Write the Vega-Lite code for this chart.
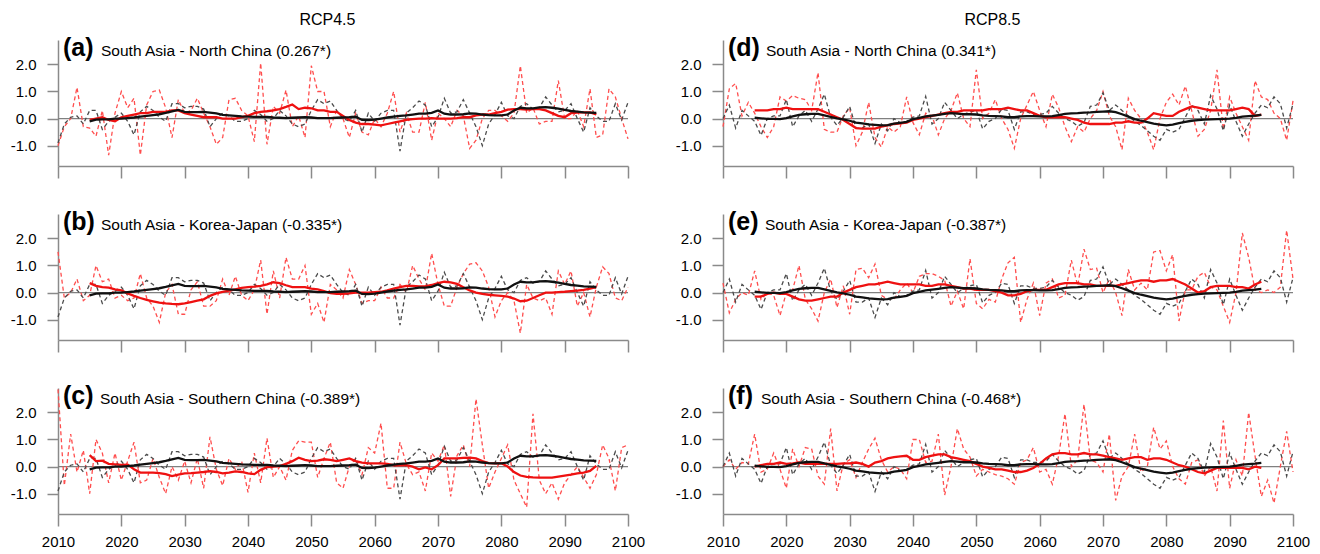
{
  "$schema": "https://vega.github.io/schema/vega-lite/v6.json",
  "background": "white",
  "padding": {"left": 10, "top": 12, "right": 5, "bottom": 5},
  "config": {
    "font": "Liberation Sans",
    "view": {"stroke": null},
    "axis": {"grid": false, "domainColor": "#8a8a8a", "tickColor": "#8a8a8a", "domainWidth": 1.5, "tickWidth": 1.5, "labelColor": "#000", "labelFont": "Liberation Sans", "labelFontSize": 15, "labelFlush": false},
    "title": {"font": "Liberation Sans", "fontSize": 16, "fontWeight": "normal", "color": "#000", "anchor": "middle"}
  },
  "datasets": {
    "labels": [
      {"panel": "a", "tag": "(a)", "name": "South Asia - North China (0.267*)"},
      {"panel": "b", "tag": "(b)", "name": "South Asia - Korea-Japan (-0.335*)"},
      {"panel": "c", "tag": "(c)", "name": "South Asia - Southern China (-0.389*)"},
      {"panel": "d", "tag": "(d)", "name": "South Asia - North China (0.341*)"},
      {"panel": "e", "tag": "(e)", "name": "South Asia - Korea-Japan (-0.387*)"},
      {"panel": "f", "tag": "(f)", "name": "South Asia - Southern China (-0.468*)"}
    ],
    "monsoon": [
      {"year":2010,"sa45":-0.9,"sa85":0,"nc45":-1,"kj45":1.5,"sc45":2.85,"nc85":-0.3,"kj85":0.35,"sc85":0},
      {"year":2011,"sa45":-0.2,"sa85":0.5,"nc45":-0.3,"kj45":-0.2,"sc45":-0.7,"nc85":1.1,"kj85":-0.75,"sc85":0.25},
      {"year":2012,"sa45":0.05,"sa85":-0.35,"nc45":0,"kj45":0,"sc45":1.2,"nc85":1.3,"kj85":-0.25,"sc85":-0.1},
      {"year":2013,"sa45":0.1,"sa85":0.3,"nc45":1.15,"kj45":0.5,"sc45":-0.2,"nc85":0.1,"kj85":0,"sc85":0.15},
      {"year":2014,"sa45":-0.2,"sa85":0.1,"nc45":-0.3,"kj45":-0.3,"sc45":0.6,"nc85":0.6,"kj85":-0.1,"sc85":0.1},
      {"year":2015,"sa45":0.3,"sa85":-0.1,"nc45":-0.35,"kj45":-0.1,"sc45":-1,"nc85":0.2,"kj85":0.8,"sc85":1.2,"sa45_avg":-0.1,"sa85_avg":0.03,"nc45_avg":-0.05,"kj45_avg":0.35,"sc45_avg":0.42,"nc85_avg":0.3,"kj85_avg":-0.15,"sc85_avg":0},
      {"year":2016,"sa45":0.3,"sa85":-0.62,"nc45":-0.65,"kj45":1,"sc45":1,"nc85":-0.3,"kj85":-0.25,"sc85":-0.2,"sa45_avg":-0.04,"sa85_avg":0.01,"nc45_avg":0,"kj45_avg":0.25,"sc45_avg":0.2,"nc85_avg":0.3,"kj85_avg":-0.15,"sc85_avg":0.05},
      {"year":2017,"sa45":-0.4,"sa85":0,"nc45":0.3,"kj45":0.4,"sc45":0.5,"nc85":-0.7,"kj85":0,"sc85":-0.1,"sa45_avg":-0.03,"sa85_avg":-0.01,"nc45_avg":0.05,"kj45_avg":0.2,"sc45_avg":0.22,"nc85_avg":0.3,"kj85_avg":-0.05,"sc85_avg":0.1},
      {"year":2018,"sa45":-0.1,"sa85":0.1,"nc45":-1.35,"kj45":0.5,"sc45":-0.6,"nc85":-0.3,"kj85":-0.1,"sc85":0.5,"sa45_avg":-0.03,"sa85_avg":-0.01,"nc45_avg":-0.05,"kj45_avg":0.18,"sc45_avg":0.1,"nc85_avg":0.35,"kj85_avg":0,"sc85_avg":0.1},
      {"year":2019,"sa45":0.05,"sa85":0.1,"nc45":0.2,"kj45":-0.2,"sc45":0.5,"nc85":0.8,"kj85":-0.85,"sc85":-0.1,"sa45_avg":0,"sa85_avg":-0.02,"nc45_avg":-0.1,"kj45_avg":0.12,"sc45_avg":0.08,"nc85_avg":0.35,"kj85_avg":-0.05,"sc85_avg":0.15},
      {"year":2020,"sa45":0.2,"sa85":0.7,"nc45":1,"kj45":-0.1,"sc45":-0.5,"nc85":0.65,"kj85":0,"sc85":-0.8,"sa45_avg":0,"sa85_avg":0.02,"nc45_avg":0.05,"kj45_avg":0.08,"sc45_avg":0.06,"nc85_avg":0.4,"kj85_avg":-0.05,"sc85_avg":0.1},
      {"year":2021,"sa45":-0.1,"sa85":-0.3,"nc45":0.4,"kj45":-0.3,"sc45":0.2,"nc85":0.85,"kj85":0.1,"sc85":0.65,"sa45_avg":0.02,"sa85_avg":0.08,"nc45_avg":0.1,"kj45_avg":-0.03,"sc45_avg":0.07,"nc85_avg":0.35,"kj85_avg":-0.15,"sc85_avg":0.12},
      {"year":2022,"sa45":-0.6,"sa85":0.1,"nc45":0.75,"kj45":-0.2,"sc45":0.9,"nc85":0.75,"kj85":1,"sc85":0,"sa45_avg":0.04,"sa85_avg":0.14,"nc45_avg":0.15,"kj45_avg":-0.12,"sc45_avg":-0.1,"nc85_avg":0.35,"kj85_avg":-0.25,"sc85_avg":0.15},
      {"year":2023,"sa45":0.25,"sa85":0.3,"nc45":-1.35,"kj45":0.7,"sc45":-0.6,"nc85":0.7,"kj85":-0.25,"sc85":0.7,"sa45_avg":0.07,"sa85_avg":0.16,"nc45_avg":0.2,"kj45_avg":-0.2,"sc45_avg":-0.22,"nc85_avg":0.35,"kj85_avg":-0.3,"sc85_avg":0.1},
      {"year":2024,"sa45":0.45,"sa85":-0.1,"nc45":0.5,"kj45":-0.2,"sc45":-0.5,"nc85":0.3,"kj85":-0.6,"sc85":0.65,"sa45_avg":0.1,"sa85_avg":0.17,"nc45_avg":0.2,"kj45_avg":-0.27,"sc45_avg":-0.22,"nc85_avg":0.35,"kj85_avg":-0.3,"sc85_avg":0.1},
      {"year":2025,"sa45":0.3,"sa85":0.35,"nc45":1,"kj45":-0.5,"sc45":0.3,"nc85":1.7,"kj85":-1.05,"sc85":-0.35,"sa45_avg":0.13,"sa85_avg":0.17,"nc45_avg":0.25,"kj45_avg":-0.32,"sc45_avg":-0.22,"nc85_avg":0.35,"kj85_avg":-0.25,"sc85_avg":0.1},
      {"year":2026,"sa45":0.05,"sa85":0.9,"nc45":1.05,"kj45":-1.1,"sc45":-0.4,"nc85":-0.4,"kj85":0,"sc85":-0.65,"sa45_avg":0.16,"sa85_avg":0.12,"nc45_avg":0.25,"kj45_avg":-0.37,"sc45_avg":-0.24,"nc85_avg":0.25,"kj85_avg":-0.2,"sc85_avg":0.1},
      {"year":2027,"sa45":-0.1,"sa85":0.05,"nc45":0.4,"kj45":0,"sc45":-1,"nc85":-0.5,"kj85":0.5,"sc85":1.4,"sa45_avg":0.21,"sa85_avg":0.06,"nc45_avg":0.25,"kj45_avg":-0.4,"sc45_avg":-0.28,"nc85_avg":0.15,"kj85_avg":-0.15,"sc85_avg":0.1},
      {"year":2028,"sa45":0.55,"sa85":-0.25,"nc45":-0.7,"kj45":0.3,"sc45":0,"nc85":-0.5,"kj85":-0.55,"sc85":-0.9,"sa45_avg":0.27,"sa85_avg":0.01,"nc45_avg":0.3,"kj45_avg":-0.42,"sc45_avg":-0.35,"nc85_avg":0.05,"kj85_avg":-0.15,"sc85_avg":0.1},
      {"year":2029,"sa45":0.55,"sa85":0.05,"nc45":0.7,"kj45":-0.8,"sc45":-0.5,"nc85":0.1,"kj85":0.25,"sc85":0.1,"sa45_avg":0.32,"sa85_avg":-0.03,"nc45_avg":0.3,"kj45_avg":-0.43,"sc45_avg":-0.3,"nc85_avg":-0.05,"kj85_avg":0,"sc85_avg":0.12},
      {"year":2030,"sa45":0.4,"sa85":0.45,"nc45":0.2,"kj45":-0.8,"sc45":0.2,"nc85":0.4,"kj85":-0.8,"sc85":0.25,"sa45_avg":0.25,"sa85_avg":-0.08,"nc45_avg":0.2,"kj45_avg":-0.4,"sc45_avg":-0.25,"nc85_avg":-0.2,"kj85_avg":0.1,"sc85_avg":0.12},
      {"year":2031,"sa45":0.45,"sa85":-0.35,"nc45":0.3,"kj45":0.1,"sc45":-0.6,"nc85":-1,"kj85":0.85,"sc85":-0.4,"sa45_avg":0.24,"sa85_avg":-0.15,"nc45_avg":0.15,"kj45_avg":-0.35,"sc45_avg":-0.24,"nc85_avg":-0.35,"kj85_avg":0.2,"sc85_avg":0.15},
      {"year":2032,"sa45":0.45,"sa85":-0.35,"nc45":0.75,"kj45":0.4,"sc45":0.3,"nc85":-0.5,"kj85":0.9,"sc85":0.15,"sa45_avg":0.24,"sa85_avg":-0.18,"nc45_avg":0.1,"kj45_avg":-0.3,"sc45_avg":-0.22,"nc85_avg":-0.37,"kj85_avg":0.25,"sc85_avg":0.1},
      {"year":2033,"sa45":0.35,"sa85":-0.2,"nc45":0.2,"kj45":-0.5,"sc45":-0.8,"nc85":0.6,"kj85":0.55,"sc85":0.65,"sa45_avg":0.25,"sa85_avg":-0.21,"nc45_avg":0.05,"kj45_avg":-0.25,"sc45_avg":-0.2,"nc85_avg":-0.37,"kj85_avg":0.3,"sc85_avg":0},
      {"year":2034,"sa45":-0.3,"sa85":-0.92,"nc45":-0.3,"kj45":-0.5,"sc45":1.1,"nc85":-0.7,"kj85":1.05,"sc85":1.05,"sa45_avg":0.22,"sa85_avg":-0.23,"nc45_avg":0.05,"kj45_avg":-0.12,"sc45_avg":-0.17,"nc85_avg":-0.37,"kj85_avg":0.3,"sc85_avg":0.15},
      {"year":2035,"sa45":0,"sa85":-0.2,"nc45":-0.95,"kj45":-0.3,"sc45":-0.1,"nc85":-1.05,"kj85":-0.1,"sc85":0.25,"sa45_avg":0.19,"sa85_avg":-0.25,"nc45_avg":0.05,"kj45_avg":-0.03,"sc45_avg":-0.2,"nc85_avg":-0.3,"kj85_avg":0.35,"sc85_avg":0.2},
      {"year":2036,"sa45":0.2,"sa85":-0.45,"nc45":-0.7,"kj45":0.5,"sc45":-0.7,"nc85":-0.3,"kj85":-0.25,"sc85":-0.2,"sa45_avg":0.14,"sa85_avg":-0.24,"nc45_avg":0,"kj45_avg":0.03,"sc45_avg":-0.25,"nc85_avg":-0.25,"kj85_avg":0.4,"sc85_avg":0.3},
      {"year":2037,"sa45":0.1,"sa85":0,"nc45":0.7,"kj45":-0.1,"sc45":0.3,"nc85":-0.5,"kj85":-0.25,"sc85":0,"sa45_avg":0.12,"sa85_avg":-0.19,"nc45_avg":0,"kj45_avg":0.07,"sc45_avg":-0.22,"nc85_avg":-0.2,"kj85_avg":0.35,"sc85_avg":0.35},
      {"year":2038,"sa45":-0.1,"sa85":-0.15,"nc45":0.75,"kj45":0.6,"sc45":-0.1,"nc85":-0.3,"kj85":0.1,"sc85":-0.1,"sa45_avg":0.1,"sa85_avg":-0.16,"nc45_avg":0,"kj45_avg":0.12,"sc45_avg":-0.18,"nc85_avg":-0.18,"kj85_avg":0.3,"sc85_avg":0.38},
      {"year":2039,"sa45":-0.1,"sa85":-0.1,"nc45":0.3,"kj45":-0.1,"sc45":0.2,"nc85":0.8,"kj85":0.35,"sc85":-0.45,"sa45_avg":0.08,"sa85_avg":-0.12,"nc45_avg":0.05,"kj45_avg":0.17,"sc45_avg":-0.2,"nc85_avg":-0.15,"kj85_avg":0.3,"sc85_avg":0.4},
      {"year":2040,"sa45":0,"sa85":0.05,"nc45":0.1,"kj45":-0.3,"sc45":-0.95,"nc85":-0.15,"kj85":0,"sc85":1,"sa45_avg":0.07,"sa85_avg":-0.02,"nc45_avg":0.1,"kj45_avg":0.2,"sc45_avg":-0.25,"nc85_avg":-0.05,"kj85_avg":0.3,"sc85_avg":0.25},
      {"year":2041,"sa45":0.3,"sa85":0.1,"nc45":-0.85,"kj45":0.1,"sc45":0.5,"nc85":-0.6,"kj85":0.6,"sc85":1,"sa45_avg":0.06,"sa85_avg":0.03,"nc45_avg":0.2,"kj45_avg":0.22,"sc45_avg":-0.28,"nc85_avg":0,"kj85_avg":0.3,"sc85_avg":0.25},
      {"year":2042,"sa45":0.15,"sa85":0.82,"nc45":2.05,"kj45":1.2,"sc45":-0.6,"nc85":0.2,"kj85":0.7,"sc85":0.15,"sa45_avg":0.06,"sa85_avg":0.08,"nc45_avg":0.25,"kj45_avg":0.25,"sc45_avg":-0.12,"nc85_avg":0.05,"kj85_avg":0.25,"sc85_avg":0.35},
      {"year":2043,"sa45":-0.1,"sa85":-0.2,"nc45":-0.95,"kj45":-0.8,"sc45":1.05,"nc85":0.1,"kj85":0.7,"sc85":0.2,"sa45_avg":0.06,"sa85_avg":0.11,"nc45_avg":0.27,"kj45_avg":0.3,"sc45_avg":-0.02,"nc85_avg":0.1,"kj85_avg":0.25,"sc85_avg":0.4},
      {"year":2044,"sa45":0,"sa85":0,"nc45":0.45,"kj45":0.8,"sc45":-0.4,"nc85":-0.6,"kj85":0.6,"sc85":1.2,"sa45_avg":0.04,"sa85_avg":0.14,"nc45_avg":0.3,"kj45_avg":0.38,"sc45_avg":0,"nc85_avg":0.15,"kj85_avg":0.3,"sc85_avg":0.45},
      {"year":2045,"sa45":0.3,"sa85":0.6,"nc45":0.2,"kj45":-0.2,"sc45":0,"nc85":0,"kj85":0.45,"sc85":-1.05,"sa45_avg":0.03,"sa85_avg":0.17,"nc45_avg":0.35,"kj45_avg":0.35,"sc45_avg":0.02,"nc85_avg":0.2,"kj85_avg":0.3,"sc85_avg":0.45},
      {"year":2046,"sa45":0.1,"sa85":0.3,"nc45":1.05,"kj45":1.3,"sc45":-0.5,"nc85":0.3,"kj85":-0.5,"sc85":0,"sa45_avg":0.02,"sa85_avg":0.2,"nc45_avg":0.43,"kj45_avg":0.27,"sc45_avg":0.1,"nc85_avg":0.25,"kj85_avg":0.25,"sc85_avg":0.35},
      {"year":2047,"sa45":-0.2,"sa85":0,"nc45":-0.3,"kj45":0.5,"sc45":0.6,"nc85":0.95,"kj85":0.05,"sc85":1.4,"sa45_avg":0.03,"sa85_avg":0.18,"nc45_avg":0.52,"kj45_avg":0.2,"sc45_avg":0.2,"nc85_avg":0.25,"kj85_avg":0.2,"sc85_avg":0.3},
      {"year":2048,"sa45":-0.3,"sa85":0.15,"nc45":0.1,"kj45":0.5,"sc45":0.95,"nc85":0,"kj85":-0.6,"sc85":0.65,"sa45_avg":0.04,"sa85_avg":0.16,"nc45_avg":0.35,"kj45_avg":0.2,"sc45_avg":0.33,"nc85_avg":0.3,"kj85_avg":0.15,"sc85_avg":0.25},
      {"year":2049,"sa45":-0.2,"sa85":0.25,"nc45":-0.7,"kj45":1,"sc45":0.9,"nc85":-0.3,"kj85":1.25,"sc85":0.35,"sa45_avg":0.05,"sa85_avg":0.16,"nc45_avg":0.4,"kj45_avg":0.2,"sc45_avg":0.25,"nc85_avg":0.3,"kj85_avg":0.15,"sc85_avg":0.2},
      {"year":2050,"sa45":0.3,"sa85":0.3,"nc45":1.95,"kj45":-0.8,"sc45":0.9,"nc85":1.8,"kj85":-0.4,"sc85":-0.35,"sa45_avg":0.04,"sa85_avg":0.15,"nc45_avg":0.38,"kj45_avg":0.15,"sc45_avg":0.2,"nc85_avg":0.3,"kj85_avg":0.1,"sc85_avg":0.1},
      {"year":2051,"sa45":0.7,"sa85":-0.38,"nc45":1,"kj45":-0.4,"sc45":-0.4,"nc85":0,"kj85":-0.6,"sc85":-0.1,"sa45_avg":0.02,"sa85_avg":0.12,"nc45_avg":0.3,"kj45_avg":0.12,"sc45_avg":0.22,"nc85_avg":0.3,"kj85_avg":0.1,"sc85_avg":0},
      {"year":2052,"sa45":0.55,"sa85":-0.1,"nc45":1,"kj45":-1.1,"sc45":0.3,"nc85":0.2,"kj85":-0.25,"sc85":-0.2,"sa45_avg":0.02,"sa85_avg":0.1,"nc45_avg":0.3,"kj45_avg":0.05,"sc45_avg":0.27,"nc85_avg":0.35,"kj85_avg":0.1,"sc85_avg":-0.05},
      {"year":2053,"sa45":0.65,"sa85":0,"nc45":-0.3,"kj45":0.3,"sc45":0.9,"nc85":0.7,"kj85":-0.35,"sc85":-0.3,"sa45_avg":0.02,"sa85_avg":0.09,"nc45_avg":0.25,"kj45_avg":-0.02,"sc45_avg":0.25,"nc85_avg":0.35,"kj85_avg":0.05,"sc85_avg":-0.1},
      {"year":2054,"sa45":0.3,"sa85":0.35,"nc45":0.3,"kj45":0.1,"sc45":-0.6,"nc85":0,"kj85":0.5,"sc85":-0.35,"sa45_avg":0.03,"sa85_avg":0.08,"nc45_avg":0.25,"kj45_avg":-0.05,"sc45_avg":0.2,"nc85_avg":0.35,"kj85_avg":0,"sc85_avg":-0.1},
      {"year":2055,"sa45":0,"sa85":0.3,"nc45":0,"kj45":-0.2,"sc45":-0.8,"nc85":-0.4,"kj85":1.1,"sc85":-0.45,"sa45_avg":0.04,"sa85_avg":0.05,"nc45_avg":0.1,"kj45_avg":-0.05,"sc45_avg":0.25,"nc85_avg":0.4,"kj85_avg":-0.1,"sc85_avg":-0.15},
      {"year":2056,"sa45":-0.1,"sa85":-0.4,"nc45":-0.7,"kj45":0.85,"sc45":0,"nc85":-1.1,"kj85":1.3,"sc85":-0.65,"sa45_avg":0.05,"sa85_avg":0.05,"nc45_avg":-0.05,"kj45_avg":-0.03,"sc45_avg":0.3,"nc85_avg":0.35,"kj85_avg":-0.1,"sc85_avg":-0.2},
      {"year":2057,"sa45":0.3,"sa85":0.25,"nc45":0.2,"kj45":0.3,"sc45":0.3,"nc85":0,"kj85":-1.1,"sc85":0.15,"sa45_avg":0.07,"sa85_avg":0.08,"nc45_avg":-0.15,"kj45_avg":0,"sc45_avg":0.2,"nc85_avg":0.3,"kj85_avg":-0.05,"sc85_avg":-0.2},
      {"year":2058,"sa45":-0.5,"sa85":0.25,"nc45":-0.5,"kj45":-0.4,"sc45":-0.3,"nc85":0.5,"kj85":-0.25,"sc85":0.25,"sa45_avg":-0.05,"sa85_avg":0.09,"nc45_avg":-0.2,"kj45_avg":0,"sc45_avg":0.15,"nc85_avg":0.3,"kj85_avg":0.05,"sc85_avg":-0.15},
      {"year":2059,"sa45":0.2,"sa85":0.15,"nc45":-0.6,"kj45":-0.3,"sc45":0.7,"nc85":1,"kj85":0.35,"sc85":0.7,"sa45_avg":-0.06,"sa85_avg":0.09,"nc45_avg":-0.2,"kj45_avg":0,"sc45_avg":0.12,"nc85_avg":0.2,"kj85_avg":0.1,"sc85_avg":-0.05},
      {"year":2060,"sa45":-0.1,"sa85":0.15,"nc45":0,"kj45":-0.3,"sc45":0.5,"nc85":0.3,"kj85":-0.85,"sc85":-0.2,"sa45_avg":-0.04,"sa85_avg":0.08,"nc45_avg":-0.22,"kj45_avg":0.02,"sc45_avg":0.12,"nc85_avg":0.1,"kj85_avg":0.1,"sc85_avg":0.1},
      {"year":2061,"sa45":0.2,"sa85":0.2,"nc45":-0.3,"kj45":0.2,"sc45":1.6,"nc85":-0.3,"kj85":0.35,"sc85":-0.1,"sa45_avg":0,"sa85_avg":0.08,"nc45_avg":-0.25,"kj45_avg":0.03,"sc45_avg":0.12,"nc85_avg":0.05,"kj85_avg":0.1,"sc85_avg":0.3},
      {"year":2062,"sa45":0.3,"sa85":0.45,"nc45":0.2,"kj45":-0.2,"sc45":-0.8,"nc85":0.9,"kj85":0.5,"sc85":-0.65,"sa45_avg":0.04,"sa85_avg":0.09,"nc45_avg":-0.2,"kj45_avg":0.08,"sc45_avg":0.1,"nc85_avg":0.05,"kj85_avg":0.2,"sc85_avg":0.45},
      {"year":2063,"sa45":0.3,"sa85":0.2,"nc45":1,"kj45":-0.2,"sc45":-0.8,"nc85":0.4,"kj85":-0.2,"sc85":0.4,"sa45_avg":0.07,"sa85_avg":0.13,"nc45_avg":-0.15,"kj45_avg":0.15,"sc45_avg":0.05,"nc85_avg":0.05,"kj85_avg":0.3,"sc85_avg":0.5},
      {"year":2064,"sa45":-1.2,"sa85":0,"nc45":-0.5,"kj45":0.3,"sc45":0.9,"nc85":-0.3,"kj85":-0.1,"sc85":1.95,"sa45_avg":0.1,"sa85_avg":0.17,"nc45_avg":-0.1,"kj45_avg":0.2,"sc45_avg":0.05,"nc85_avg":0.05,"kj85_avg":0.35,"sc85_avg":0.5},
      {"year":2065,"sa45":0.2,"sa85":-0.1,"nc45":0.2,"kj45":0,"sc45":0.1,"nc85":-0.85,"kj85":1.2,"sc85":0,"sa45_avg":0.12,"sa85_avg":0.19,"nc45_avg":-0.05,"kj45_avg":0.25,"sc45_avg":0.05,"nc85_avg":0,"kj85_avg":0.35,"sc85_avg":0.45},
      {"year":2066,"sa45":0.4,"sa85":-0.28,"nc45":-0.5,"kj45":1,"sc45":-0.3,"nc85":-0.3,"kj85":0.25,"sc85":0.25,"sa45_avg":0.15,"sa85_avg":0.2,"nc45_avg":-0.02,"kj45_avg":0.25,"sc45_avg":0,"nc85_avg":-0.05,"kj85_avg":0.35,"sc85_avg":0.45},
      {"year":2067,"sa45":0.65,"sa85":-0.15,"nc45":-0.5,"kj45":0.5,"sc45":-0.2,"nc85":-0.5,"kj85":1.6,"sc85":2.3,"sa45_avg":0.18,"sa85_avg":0.22,"nc45_avg":0,"kj45_avg":0.23,"sc45_avg":-0.1,"nc85_avg":-0.15,"kj85_avg":0.3,"sc85_avg":0.5},
      {"year":2068,"sa45":0.5,"sa85":0.45,"nc45":0.6,"kj45":0.1,"sc45":-0.9,"nc85":0,"kj85":0.85,"sc85":0.25,"sa45_avg":0.18,"sa85_avg":0.23,"nc45_avg":0,"kj45_avg":0.23,"sc45_avg":-0.03,"nc85_avg":-0.2,"kj85_avg":0.3,"sc85_avg":0.45},
      {"year":2069,"sa45":-0.3,"sa85":0.5,"nc45":-0.8,"kj45":1.45,"sc45":0.5,"nc85":0.3,"kj85":0.9,"sc85":0.15,"sa45_avg":0.21,"sa85_avg":0.25,"nc45_avg":0.02,"kj45_avg":0.28,"sc45_avg":-0.1,"nc85_avg":-0.2,"kj85_avg":0.25,"sc85_avg":0.45},
      {"year":2070,"sa45":0.05,"sa85":0.95,"nc45":0.2,"kj45":0.3,"sc45":0.2,"nc85":1,"kj85":0,"sc85":-0.2,"sa45_avg":0.3,"sa85_avg":0.26,"nc45_avg":0,"kj45_avg":0.35,"sc45_avg":0.05,"nc85_avg":-0.2,"kj85_avg":0.25,"sc85_avg":0.4},
      {"year":2071,"sa45":0.75,"sa85":0.3,"nc45":0,"kj45":-0.5,"sc45":0.8,"nc85":0.1,"kj85":0.5,"sc85":1.2,"sa45_avg":0.18,"sa85_avg":0.27,"nc45_avg":0,"kj45_avg":0.4,"sc45_avg":0.3,"nc85_avg":-0.2,"kj85_avg":0.25,"sc85_avg":0.35},
      {"year":2072,"sa45":0.2,"sa85":0.5,"nc45":-0.3,"kj45":-0.5,"sc45":-1.1,"nc85":-0.3,"kj85":0,"sc85":-1.25,"sa45_avg":0.15,"sa85_avg":0.24,"nc45_avg":0,"kj45_avg":0.38,"sc45_avg":0.3,"nc85_avg":-0.15,"kj85_avg":0.25,"sc85_avg":0.3},
      {"year":2073,"sa45":0.25,"sa85":0.3,"nc45":0.3,"kj45":0.2,"sc45":0.4,"nc85":-1.15,"kj85":-0.85,"sc85":-0.35,"sa45_avg":0.15,"sa85_avg":0.16,"nc45_avg":0.02,"kj45_avg":0.32,"sc45_avg":0.3,"nc85_avg":-0.15,"kj85_avg":0.3,"sc85_avg":0.25},
      {"year":2074,"sa45":0.7,"sa85":0.1,"nc45":0.1,"kj45":0.7,"sc45":0.8,"nc85":0.75,"kj85":0.85,"sc85":0,"sa45_avg":0.16,"sa85_avg":0.07,"nc45_avg":0.05,"kj45_avg":0.2,"sc45_avg":0.32,"nc85_avg":-0.1,"kj85_avg":0.35,"sc85_avg":0.3},
      {"year":2075,"sa45":0.2,"sa85":-0.1,"nc45":-1.1,"kj45":1.05,"sc45":0,"nc85":0.3,"kj85":0.1,"sc85":1.2,"sa45_avg":0.19,"sa85_avg":-0.02,"nc45_avg":0.05,"kj45_avg":0.08,"sc45_avg":0.33,"nc85_avg":-0.15,"kj85_avg":0.4,"sc85_avg":0.35},
      {"year":2076,"sa45":-0.3,"sa85":-0.25,"nc45":-0.8,"kj45":1.1,"sc45":2.5,"nc85":0,"kj85":0.35,"sc85":-0.2,"sa45_avg":0.18,"sa85_avg":-0.08,"nc45_avg":0.12,"kj45_avg":0,"sc45_avg":0.3,"nc85_avg":-0.15,"kj85_avg":0.45,"sc85_avg":0.35},
      {"year":2077,"sa45":-1,"sa85":-0.45,"nc45":0,"kj45":0.8,"sc45":0.8,"nc85":-0.5,"kj85":0.1,"sc85":0,"sa45_avg":0.15,"sa85_avg":-0.13,"nc45_avg":0.15,"kj45_avg":-0.05,"sc45_avg":0.2,"nc85_avg":0,"kj85_avg":0.45,"sc85_avg":0.25},
      {"year":2078,"sa45":-0.2,"sa85":-0.65,"nc45":0.3,"kj45":0.2,"sc45":-0.8,"nc85":-1.15,"kj85":1.5,"sc85":1.45,"sa45_avg":0.13,"sa85_avg":-0.19,"nc45_avg":0.15,"kj45_avg":-0.08,"sc45_avg":0.13,"nc85_avg":0.2,"kj85_avg":0.4,"sc85_avg":0.3},
      {"year":2079,"sa45":0.15,"sa85":-0.8,"nc45":0.3,"kj45":-0.9,"sc45":-0.2,"nc85":0,"kj85":1.55,"sc85":0.65,"sa45_avg":0.12,"sa85_avg":-0.22,"nc45_avg":0.2,"kj45_avg":-0.1,"sc45_avg":0.12,"nc85_avg":0.15,"kj85_avg":0.45,"sc85_avg":0.3},
      {"year":2080,"sa45":0.6,"sa85":-0.4,"nc45":0.1,"kj45":-0.3,"sc45":0.3,"nc85":0.6,"kj85":0.8,"sc85":0.95,"sa45_avg":0.12,"sa85_avg":-0.25,"nc45_avg":0.25,"kj45_avg":-0.12,"sc45_avg":0.12,"nc85_avg":0.1,"kj85_avg":0.45,"sc85_avg":0.25},
      {"year":2081,"sa45":0.1,"sa85":-0.5,"nc45":-0.1,"kj45":0,"sc45":0.8,"nc85":0.9,"kj85":1.4,"sc85":0,"sa45_avg":0.15,"sa85_avg":-0.22,"nc45_avg":0.33,"kj45_avg":-0.15,"sc45_avg":0,"nc85_avg":0.1,"kj85_avg":0.5,"sc85_avg":0.15},
      {"year":2082,"sa45":0,"sa85":-0.4,"nc45":0.2,"kj45":-0.3,"sc45":-0.5,"nc85":0.5,"kj85":-1.05,"sc85":-0.45,"sa45_avg":0.3,"sa85_avg":-0.17,"nc45_avg":0.35,"kj45_avg":-0.22,"sc45_avg":-0.2,"nc85_avg":0.25,"kj85_avg":0.4,"sc85_avg":0.05},
      {"year":2083,"sa45":0.45,"sa85":0.05,"nc45":1.95,"kj45":-1.5,"sc45":-1,"nc85":1.2,"kj85":0.1,"sc85":-0.65,"sa45_avg":0.4,"sa85_avg":-0.12,"nc45_avg":0.35,"kj45_avg":-0.32,"sc45_avg":-0.33,"nc85_avg":0.35,"kj85_avg":0.3,"sc85_avg":0},
      {"year":2084,"sa45":0.55,"sa85":0.5,"nc45":0.2,"kj45":0.3,"sc45":-1.5,"nc85":0.3,"kj85":0.1,"sc85":0.15,"sa45_avg":0.38,"sa85_avg":-0.08,"nc45_avg":0.33,"kj45_avg":-0.3,"sc45_avg":-0.38,"nc85_avg":0.45,"kj85_avg":0.15,"sc85_avg":-0.1},
      {"year":2085,"sa45":0.35,"sa85":0.3,"nc45":0.4,"kj45":-0.2,"sc45":1.95,"nc85":-0.65,"kj85":0.6,"sc85":0.25,"sa45_avg":0.38,"sa85_avg":-0.06,"nc45_avg":0.35,"kj45_avg":-0.2,"sc45_avg":-0.4,"nc85_avg":0.4,"kj85_avg":0,"sc85_avg":-0.2},
      {"year":2086,"sa45":0.4,"sa85":-0.2,"nc45":-0.2,"kj45":-0.3,"sc45":-0.5,"nc85":-0.4,"kj85":0.75,"sc85":-0.35,"sa45_avg":0.41,"sa85_avg":-0.04,"nc45_avg":0.35,"kj45_avg":-0.1,"sc45_avg":-0.41,"nc85_avg":0.35,"kj85_avg":0.05,"sc85_avg":-0.25},
      {"year":2087,"sa45":0.8,"sa85":0.85,"nc45":-0.1,"kj45":-0.2,"sc45":-1,"nc85":0.3,"kj85":0.2,"sc85":0,"sa45_avg":0.42,"sa85_avg":-0.03,"nc45_avg":0.3,"kj45_avg":0,"sc45_avg":-0.41,"nc85_avg":0.3,"kj85_avg":0.2,"sc85_avg":-0.15},
      {"year":2088,"sa45":0.5,"sa85":0.35,"nc45":-0.1,"kj45":-0.8,"sc45":-0.6,"nc85":1.8,"kj85":0.1,"sc85":-0.9,"sa45_avg":0.4,"sa85_avg":-0.02,"nc45_avg":0.2,"kj45_avg":0,"sc45_avg":-0.41,"nc85_avg":0.3,"kj85_avg":0.25,"sc85_avg":-0.05},
      {"year":2089,"sa45":0.25,"sa85":-0.45,"nc45":1.4,"kj45":0.8,"sc45":-1.2,"nc85":-0.4,"kj85":-0.5,"sc85":1.7,"sa45_avg":0.37,"sa85_avg":-0.01,"nc45_avg":0.1,"kj45_avg":0.02,"sc45_avg":-0.37,"nc85_avg":0.3,"kj85_avg":0.25,"sc85_avg":-0.05},
      {"year":2090,"sa45":0.3,"sa85":0.5,"nc45":0,"kj45":0.3,"sc45":-0.6,"nc85":0.8,"kj85":-1.1,"sc85":-0.8,"sa45_avg":0.32,"sa85_avg":0,"nc45_avg":0.05,"kj45_avg":0.03,"sc45_avg":-0.33,"nc85_avg":0.3,"kj85_avg":0.25,"sc85_avg":-0.05},
      {"year":2091,"sa45":0.55,"sa85":-0.1,"nc45":0,"kj45":0.8,"sc45":-0.3,"nc85":0.2,"kj85":0,"sc85":0.25,"sa45_avg":0.28,"sa85_avg":0.03,"nc45_avg":0.2,"kj45_avg":0.05,"sc45_avg":-0.3,"nc85_avg":0.35,"kj85_avg":0.2,"sc85_avg":-0.05},
      {"year":2092,"sa45":0,"sa85":-0.65,"nc45":0.3,"kj45":-0.5,"sc45":0,"nc85":-0.3,"kj85":2.2,"sc85":-0.35,"sa45_avg":0.26,"sa85_avg":0.07,"nc45_avg":0.22,"kj45_avg":0.07,"sc45_avg":-0.25,"nc85_avg":0.4,"kj85_avg":0.2,"sc85_avg":-0.05},
      {"year":2093,"sa45":-0.5,"sa85":-0.2,"nc45":-0.3,"kj45":0,"sc45":-0.4,"nc85":-0.8,"kj85":1.3,"sc85":2,"sa45_avg":0.23,"sa85_avg":0.09,"nc45_avg":0.23,"kj45_avg":0.1,"sc45_avg":-0.22,"nc85_avg":0.35,"kj85_avg":0.15,"sc85_avg":-0.1},
      {"year":2094,"sa45":0.4,"sa85":0.2,"nc45":1.1,"kj45":-0.9,"sc45":-0.8,"nc85":1.4,"kj85":0.1,"sc85":0.4,"sa45_avg":0.22,"sa85_avg":0.11,"nc45_avg":0.23,"kj45_avg":0.15,"sc45_avg":-0.16,"nc85_avg":0.1,"kj85_avg":0.3,"sc85_avg":0},
      {"year":2095,"sa45":0.1,"sa85":0.5,"nc45":-0.7,"kj45":0.2,"sc45":-0.3,"nc85":0.8,"kj85":0,"sc85":-1.1,"sa45_avg":0.21,"sa85_avg":0.14,"nc45_avg":0.15,"kj45_avg":0.2,"sc45_avg":0.03,"nc85_avg":0.15,"kj85_avg":0.4,"sc85_avg":-0.05},
      {"year":2096,"sa45":-0.1,"sa85":0.4,"nc45":-0.6,"kj45":0.95,"sc45":0.8,"nc85":0.7,"kj85":0.1,"sc85":-0.5},
      {"year":2097,"sa45":-0.1,"sa85":0.8,"nc45":1.1,"kj45":0.7,"sc45":0.3,"nc85":0.2,"kj85":0,"sc85":-1.35},
      {"year":2098,"sa45":0.55,"sa85":0.55,"nc45":0.8,"kj45":-0.2,"sc45":-0.9,"nc85":0,"kj85":0.2,"sc85":0},
      {"year":2099,"sa45":-0.05,"sa85":-0.35,"nc45":0,"kj45":-0.3,"sc45":0.7,"nc85":-0.8,"kj85":2.3,"sc85":1.3},
      {"year":2100,"sa45":0.6,"sa85":0.55,"nc45":-0.75,"kj45":0.2,"sc45":0.8,"nc85":0.65,"kj85":0.5,"sc85":-0.2}
    ]
  },
  "spacing": 30,
  "hconcat": [
    {
      "title": {"text": "RCP4.5", "offset": 8},
      "spacing": 31,
      "vconcat": [
        {
          "width": 570, "height": 126,
          "layer": [
            {"data": {"values": [{"ref": 0}]}, "mark": {"type": "rule", "color": "#808080", "strokeWidth": 1.2}, "encoding": {"y": {"field": "ref", "type": "quantitative", "title": null, "scale": {"domain": [-1.75, 2.9], "nice": false, "zero": false}, "axis": {"values": [-1, 0, 1, 2], "labelExpr": "replace(format(datum.value,'.1f'),'−','-')", "tickSize": 11, "labelPadding": 11}}}},
            {"data": {"name": "monsoon"}, "mark": {"type": "line", "color": "#ff4d4d", "strokeWidth": 1.3, "strokeDash": [4, 3]}, "encoding": {"x": {"field": "year", "type": "quantitative", "title": null, "scale": {"domain": [2010, 2100], "nice": false, "zero": false}, "axis": {"values": [2010, 2020, 2030, 2040, 2050, 2060, 2070, 2080, 2090, 2100], "labels": false, "tickSize": 12}}, "y": {"field": "nc45", "type": "quantitative", "title": null, "scale": {"domain": [-1.75, 2.9], "nice": false, "zero": false}}}},
            {"data": {"name": "monsoon"}, "mark": {"type": "line", "color": "#4a4a4a", "strokeWidth": 1.3, "strokeDash": [4, 3]}, "encoding": {"x": {"field": "year", "type": "quantitative", "title": null, "scale": {"domain": [2010, 2100], "nice": false, "zero": false}}, "y": {"field": "sa45", "type": "quantitative", "title": null, "scale": {"domain": [-1.75, 2.9], "nice": false, "zero": false}}}},
            {"data": {"name": "monsoon"}, "mark": {"type": "line", "color": "#ee1111", "strokeWidth": 2.3}, "encoding": {"x": {"field": "year", "type": "quantitative", "title": null, "scale": {"domain": [2010, 2100], "nice": false, "zero": false}}, "y": {"field": "nc45_avg", "type": "quantitative", "title": null, "scale": {"domain": [-1.75, 2.9], "nice": false, "zero": false}}}},
            {"data": {"name": "monsoon"}, "mark": {"type": "line", "color": "#111111", "strokeWidth": 2.3}, "encoding": {"x": {"field": "year", "type": "quantitative", "title": null, "scale": {"domain": [2010, 2100], "nice": false, "zero": false}}, "y": {"field": "sa45_avg", "type": "quantitative", "title": null, "scale": {"domain": [-1.75, 2.9], "nice": false, "zero": false}}}},
            {"data": {"name": "labels"}, "transform": [{"filter": "datum.panel == 'a'"}], "mark": {"type": "text", "align": "left", "baseline": "alphabetic", "fontSize": 25, "fontWeight": "bold", "color": "#000", "dx": 5}, "encoding": {"x": {"datum": 2010, "type": "quantitative", "title": null}, "y": {"datum": 2.3, "type": "quantitative", "title": null}, "text": {"field": "tag"}}},
            {"data": {"name": "labels"}, "transform": [{"filter": "datum.panel == 'a'"}], "mark": {"type": "text", "align": "left", "baseline": "alphabetic", "fontSize": 15.5, "color": "#000", "dx": 43}, "encoding": {"x": {"datum": 2010, "type": "quantitative", "title": null}, "y": {"datum": 2.3, "type": "quantitative", "title": null}, "text": {"field": "name"}}}
          ]
        },
        {
          "width": 570, "height": 126,
          "layer": [
            {"data": {"values": [{"ref": 0}]}, "mark": {"type": "rule", "color": "#808080", "strokeWidth": 1.2}, "encoding": {"y": {"field": "ref", "type": "quantitative", "title": null, "scale": {"domain": [-1.75, 2.9], "nice": false, "zero": false}, "axis": {"values": [-1, 0, 1, 2], "labelExpr": "replace(format(datum.value,'.1f'),'−','-')", "tickSize": 11, "labelPadding": 11}}}},
            {"data": {"name": "monsoon"}, "mark": {"type": "line", "color": "#ff4d4d", "strokeWidth": 1.3, "strokeDash": [4, 3]}, "encoding": {"x": {"field": "year", "type": "quantitative", "title": null, "scale": {"domain": [2010, 2100], "nice": false, "zero": false}, "axis": {"values": [2010, 2020, 2030, 2040, 2050, 2060, 2070, 2080, 2090, 2100], "labels": false, "tickSize": 12}}, "y": {"field": "kj45", "type": "quantitative", "title": null, "scale": {"domain": [-1.75, 2.9], "nice": false, "zero": false}}}},
            {"data": {"name": "monsoon"}, "mark": {"type": "line", "color": "#4a4a4a", "strokeWidth": 1.3, "strokeDash": [4, 3]}, "encoding": {"x": {"field": "year", "type": "quantitative", "title": null, "scale": {"domain": [2010, 2100], "nice": false, "zero": false}}, "y": {"field": "sa45", "type": "quantitative", "title": null, "scale": {"domain": [-1.75, 2.9], "nice": false, "zero": false}}}},
            {"data": {"name": "monsoon"}, "mark": {"type": "line", "color": "#ee1111", "strokeWidth": 2.3}, "encoding": {"x": {"field": "year", "type": "quantitative", "title": null, "scale": {"domain": [2010, 2100], "nice": false, "zero": false}}, "y": {"field": "kj45_avg", "type": "quantitative", "title": null, "scale": {"domain": [-1.75, 2.9], "nice": false, "zero": false}}}},
            {"data": {"name": "monsoon"}, "mark": {"type": "line", "color": "#111111", "strokeWidth": 2.3}, "encoding": {"x": {"field": "year", "type": "quantitative", "title": null, "scale": {"domain": [2010, 2100], "nice": false, "zero": false}}, "y": {"field": "sa45_avg", "type": "quantitative", "title": null, "scale": {"domain": [-1.75, 2.9], "nice": false, "zero": false}}}},
            {"data": {"name": "labels"}, "transform": [{"filter": "datum.panel == 'b'"}], "mark": {"type": "text", "align": "left", "baseline": "alphabetic", "fontSize": 25, "fontWeight": "bold", "color": "#000", "dx": 5}, "encoding": {"x": {"datum": 2010, "type": "quantitative", "title": null}, "y": {"datum": 2.3, "type": "quantitative", "title": null}, "text": {"field": "tag"}}},
            {"data": {"name": "labels"}, "transform": [{"filter": "datum.panel == 'b'"}], "mark": {"type": "text", "align": "left", "baseline": "alphabetic", "fontSize": 15.5, "color": "#000", "dx": 43}, "encoding": {"x": {"datum": 2010, "type": "quantitative", "title": null}, "y": {"datum": 2.3, "type": "quantitative", "title": null}, "text": {"field": "name"}}}
          ]
        },
        {
          "width": 570, "height": 126,
          "layer": [
            {"data": {"values": [{"ref": 0}]}, "mark": {"type": "rule", "color": "#808080", "strokeWidth": 1.2}, "encoding": {"y": {"field": "ref", "type": "quantitative", "title": null, "scale": {"domain": [-1.75, 2.9], "nice": false, "zero": false}, "axis": {"values": [-1, 0, 1, 2], "labelExpr": "replace(format(datum.value,'.1f'),'−','-')", "tickSize": 11, "labelPadding": 11}}}},
            {"data": {"name": "monsoon"}, "mark": {"type": "line", "color": "#ff4d4d", "strokeWidth": 1.3, "strokeDash": [4, 3]}, "encoding": {"x": {"field": "year", "type": "quantitative", "title": null, "scale": {"domain": [2010, 2100], "nice": false, "zero": false}, "axis": {"values": [2010, 2020, 2030, 2040, 2050, 2060, 2070, 2080, 2090, 2100], "format": "d", "tickSize": 12, "labelPadding": 8}}, "y": {"field": "sc45", "type": "quantitative", "title": null, "scale": {"domain": [-1.75, 2.9], "nice": false, "zero": false}}}},
            {"data": {"name": "monsoon"}, "mark": {"type": "line", "color": "#4a4a4a", "strokeWidth": 1.3, "strokeDash": [4, 3]}, "encoding": {"x": {"field": "year", "type": "quantitative", "title": null, "scale": {"domain": [2010, 2100], "nice": false, "zero": false}}, "y": {"field": "sa45", "type": "quantitative", "title": null, "scale": {"domain": [-1.75, 2.9], "nice": false, "zero": false}}}},
            {"data": {"name": "monsoon"}, "mark": {"type": "line", "color": "#ee1111", "strokeWidth": 2.3}, "encoding": {"x": {"field": "year", "type": "quantitative", "title": null, "scale": {"domain": [2010, 2100], "nice": false, "zero": false}}, "y": {"field": "sc45_avg", "type": "quantitative", "title": null, "scale": {"domain": [-1.75, 2.9], "nice": false, "zero": false}}}},
            {"data": {"name": "monsoon"}, "mark": {"type": "line", "color": "#111111", "strokeWidth": 2.3}, "encoding": {"x": {"field": "year", "type": "quantitative", "title": null, "scale": {"domain": [2010, 2100], "nice": false, "zero": false}}, "y": {"field": "sa45_avg", "type": "quantitative", "title": null, "scale": {"domain": [-1.75, 2.9], "nice": false, "zero": false}}}},
            {"data": {"name": "labels"}, "transform": [{"filter": "datum.panel == 'c'"}], "mark": {"type": "text", "align": "left", "baseline": "alphabetic", "fontSize": 25, "fontWeight": "bold", "color": "#000", "dx": 5}, "encoding": {"x": {"datum": 2010, "type": "quantitative", "title": null}, "y": {"datum": 2.3, "type": "quantitative", "title": null}, "text": {"field": "tag"}}},
            {"data": {"name": "labels"}, "transform": [{"filter": "datum.panel == 'c'"}], "mark": {"type": "text", "align": "left", "baseline": "alphabetic", "fontSize": 15.5, "color": "#000", "dx": 42}, "encoding": {"x": {"datum": 2010, "type": "quantitative", "title": null}, "y": {"datum": 2.3, "type": "quantitative", "title": null}, "text": {"field": "name"}}}
          ]
        }
      ]
    },
    {
      "title": {"text": "RCP8.5", "offset": 8},
      "spacing": 31,
      "vconcat": [
        {
          "width": 570, "height": 126,
          "layer": [
            {"data": {"values": [{"ref": 0}]}, "mark": {"type": "rule", "color": "#808080", "strokeWidth": 1.2}, "encoding": {"y": {"field": "ref", "type": "quantitative", "title": null, "scale": {"domain": [-1.75, 2.9], "nice": false, "zero": false}, "axis": {"values": [-1, 0, 1, 2], "labelExpr": "replace(format(datum.value,'.1f'),'−','-')", "tickSize": 11, "labelPadding": 11}}}},
            {"data": {"name": "monsoon"}, "mark": {"type": "line", "color": "#ff4d4d", "strokeWidth": 1.3, "strokeDash": [4, 3]}, "encoding": {"x": {"field": "year", "type": "quantitative", "title": null, "scale": {"domain": [2010, 2100], "nice": false, "zero": false}, "axis": {"values": [2010, 2020, 2030, 2040, 2050, 2060, 2070, 2080, 2090, 2100], "labels": false, "tickSize": 12}}, "y": {"field": "nc85", "type": "quantitative", "title": null, "scale": {"domain": [-1.75, 2.9], "nice": false, "zero": false}}}},
            {"data": {"name": "monsoon"}, "mark": {"type": "line", "color": "#4a4a4a", "strokeWidth": 1.3, "strokeDash": [4, 3]}, "encoding": {"x": {"field": "year", "type": "quantitative", "title": null, "scale": {"domain": [2010, 2100], "nice": false, "zero": false}}, "y": {"field": "sa85", "type": "quantitative", "title": null, "scale": {"domain": [-1.75, 2.9], "nice": false, "zero": false}}}},
            {"data": {"name": "monsoon"}, "mark": {"type": "line", "color": "#ee1111", "strokeWidth": 2.3}, "encoding": {"x": {"field": "year", "type": "quantitative", "title": null, "scale": {"domain": [2010, 2100], "nice": false, "zero": false}}, "y": {"field": "nc85_avg", "type": "quantitative", "title": null, "scale": {"domain": [-1.75, 2.9], "nice": false, "zero": false}}}},
            {"data": {"name": "monsoon"}, "mark": {"type": "line", "color": "#111111", "strokeWidth": 2.3}, "encoding": {"x": {"field": "year", "type": "quantitative", "title": null, "scale": {"domain": [2010, 2100], "nice": false, "zero": false}}, "y": {"field": "sa85_avg", "type": "quantitative", "title": null, "scale": {"domain": [-1.75, 2.9], "nice": false, "zero": false}}}},
            {"data": {"name": "labels"}, "transform": [{"filter": "datum.panel == 'd'"}], "mark": {"type": "text", "align": "left", "baseline": "alphabetic", "fontSize": 25, "fontWeight": "bold", "color": "#000", "dx": 5}, "encoding": {"x": {"datum": 2010, "type": "quantitative", "title": null}, "y": {"datum": 2.3, "type": "quantitative", "title": null}, "text": {"field": "tag"}}},
            {"data": {"name": "labels"}, "transform": [{"filter": "datum.panel == 'd'"}], "mark": {"type": "text", "align": "left", "baseline": "alphabetic", "fontSize": 15.5, "color": "#000", "dx": 43}, "encoding": {"x": {"datum": 2010, "type": "quantitative", "title": null}, "y": {"datum": 2.3, "type": "quantitative", "title": null}, "text": {"field": "name"}}}
          ]
        },
        {
          "width": 570, "height": 126,
          "layer": [
            {"data": {"values": [{"ref": 0}]}, "mark": {"type": "rule", "color": "#808080", "strokeWidth": 1.2}, "encoding": {"y": {"field": "ref", "type": "quantitative", "title": null, "scale": {"domain": [-1.75, 2.9], "nice": false, "zero": false}, "axis": {"values": [-1, 0, 1, 2], "labelExpr": "replace(format(datum.value,'.1f'),'−','-')", "tickSize": 11, "labelPadding": 11}}}},
            {"data": {"name": "monsoon"}, "mark": {"type": "line", "color": "#ff4d4d", "strokeWidth": 1.3, "strokeDash": [4, 3]}, "encoding": {"x": {"field": "year", "type": "quantitative", "title": null, "scale": {"domain": [2010, 2100], "nice": false, "zero": false}, "axis": {"values": [2010, 2020, 2030, 2040, 2050, 2060, 2070, 2080, 2090, 2100], "labels": false, "tickSize": 12}}, "y": {"field": "kj85", "type": "quantitative", "title": null, "scale": {"domain": [-1.75, 2.9], "nice": false, "zero": false}}}},
            {"data": {"name": "monsoon"}, "mark": {"type": "line", "color": "#4a4a4a", "strokeWidth": 1.3, "strokeDash": [4, 3]}, "encoding": {"x": {"field": "year", "type": "quantitative", "title": null, "scale": {"domain": [2010, 2100], "nice": false, "zero": false}}, "y": {"field": "sa85", "type": "quantitative", "title": null, "scale": {"domain": [-1.75, 2.9], "nice": false, "zero": false}}}},
            {"data": {"name": "monsoon"}, "mark": {"type": "line", "color": "#ee1111", "strokeWidth": 2.3}, "encoding": {"x": {"field": "year", "type": "quantitative", "title": null, "scale": {"domain": [2010, 2100], "nice": false, "zero": false}}, "y": {"field": "kj85_avg", "type": "quantitative", "title": null, "scale": {"domain": [-1.75, 2.9], "nice": false, "zero": false}}}},
            {"data": {"name": "monsoon"}, "mark": {"type": "line", "color": "#111111", "strokeWidth": 2.3}, "encoding": {"x": {"field": "year", "type": "quantitative", "title": null, "scale": {"domain": [2010, 2100], "nice": false, "zero": false}}, "y": {"field": "sa85_avg", "type": "quantitative", "title": null, "scale": {"domain": [-1.75, 2.9], "nice": false, "zero": false}}}},
            {"data": {"name": "labels"}, "transform": [{"filter": "datum.panel == 'e'"}], "mark": {"type": "text", "align": "left", "baseline": "alphabetic", "fontSize": 25, "fontWeight": "bold", "color": "#000", "dx": 5}, "encoding": {"x": {"datum": 2010, "type": "quantitative", "title": null}, "y": {"datum": 2.3, "type": "quantitative", "title": null}, "text": {"field": "tag"}}},
            {"data": {"name": "labels"}, "transform": [{"filter": "datum.panel == 'e'"}], "mark": {"type": "text", "align": "left", "baseline": "alphabetic", "fontSize": 15.5, "color": "#000", "dx": 42}, "encoding": {"x": {"datum": 2010, "type": "quantitative", "title": null}, "y": {"datum": 2.3, "type": "quantitative", "title": null}, "text": {"field": "name"}}}
          ]
        },
        {
          "width": 570, "height": 126,
          "layer": [
            {"data": {"values": [{"ref": 0}]}, "mark": {"type": "rule", "color": "#808080", "strokeWidth": 1.2}, "encoding": {"y": {"field": "ref", "type": "quantitative", "title": null, "scale": {"domain": [-1.75, 2.9], "nice": false, "zero": false}, "axis": {"values": [-1, 0, 1, 2], "labelExpr": "replace(format(datum.value,'.1f'),'−','-')", "tickSize": 11, "labelPadding": 11}}}},
            {"data": {"name": "monsoon"}, "mark": {"type": "line", "color": "#ff4d4d", "strokeWidth": 1.3, "strokeDash": [4, 3]}, "encoding": {"x": {"field": "year", "type": "quantitative", "title": null, "scale": {"domain": [2010, 2100], "nice": false, "zero": false}, "axis": {"values": [2010, 2020, 2030, 2040, 2050, 2060, 2070, 2080, 2090, 2100], "format": "d", "tickSize": 12, "labelPadding": 8}}, "y": {"field": "sc85", "type": "quantitative", "title": null, "scale": {"domain": [-1.75, 2.9], "nice": false, "zero": false}}}},
            {"data": {"name": "monsoon"}, "mark": {"type": "line", "color": "#4a4a4a", "strokeWidth": 1.3, "strokeDash": [4, 3]}, "encoding": {"x": {"field": "year", "type": "quantitative", "title": null, "scale": {"domain": [2010, 2100], "nice": false, "zero": false}}, "y": {"field": "sa85", "type": "quantitative", "title": null, "scale": {"domain": [-1.75, 2.9], "nice": false, "zero": false}}}},
            {"data": {"name": "monsoon"}, "mark": {"type": "line", "color": "#ee1111", "strokeWidth": 2.3}, "encoding": {"x": {"field": "year", "type": "quantitative", "title": null, "scale": {"domain": [2010, 2100], "nice": false, "zero": false}}, "y": {"field": "sc85_avg", "type": "quantitative", "title": null, "scale": {"domain": [-1.75, 2.9], "nice": false, "zero": false}}}},
            {"data": {"name": "monsoon"}, "mark": {"type": "line", "color": "#111111", "strokeWidth": 2.3}, "encoding": {"x": {"field": "year", "type": "quantitative", "title": null, "scale": {"domain": [2010, 2100], "nice": false, "zero": false}}, "y": {"field": "sa85_avg", "type": "quantitative", "title": null, "scale": {"domain": [-1.75, 2.9], "nice": false, "zero": false}}}},
            {"data": {"name": "labels"}, "transform": [{"filter": "datum.panel == 'f'"}], "mark": {"type": "text", "align": "left", "baseline": "alphabetic", "fontSize": 25, "fontWeight": "bold", "color": "#000", "dx": 5}, "encoding": {"x": {"datum": 2010, "type": "quantitative", "title": null}, "y": {"datum": 2.3, "type": "quantitative", "title": null}, "text": {"field": "tag"}}},
            {"data": {"name": "labels"}, "transform": [{"filter": "datum.panel == 'f'"}], "mark": {"type": "text", "align": "left", "baseline": "alphabetic", "fontSize": 15.5, "color": "#000", "dx": 38}, "encoding": {"x": {"datum": 2010, "type": "quantitative", "title": null}, "y": {"datum": 2.3, "type": "quantitative", "title": null}, "text": {"field": "name"}}}
          ]
        }
      ]
    }
  ]
}
